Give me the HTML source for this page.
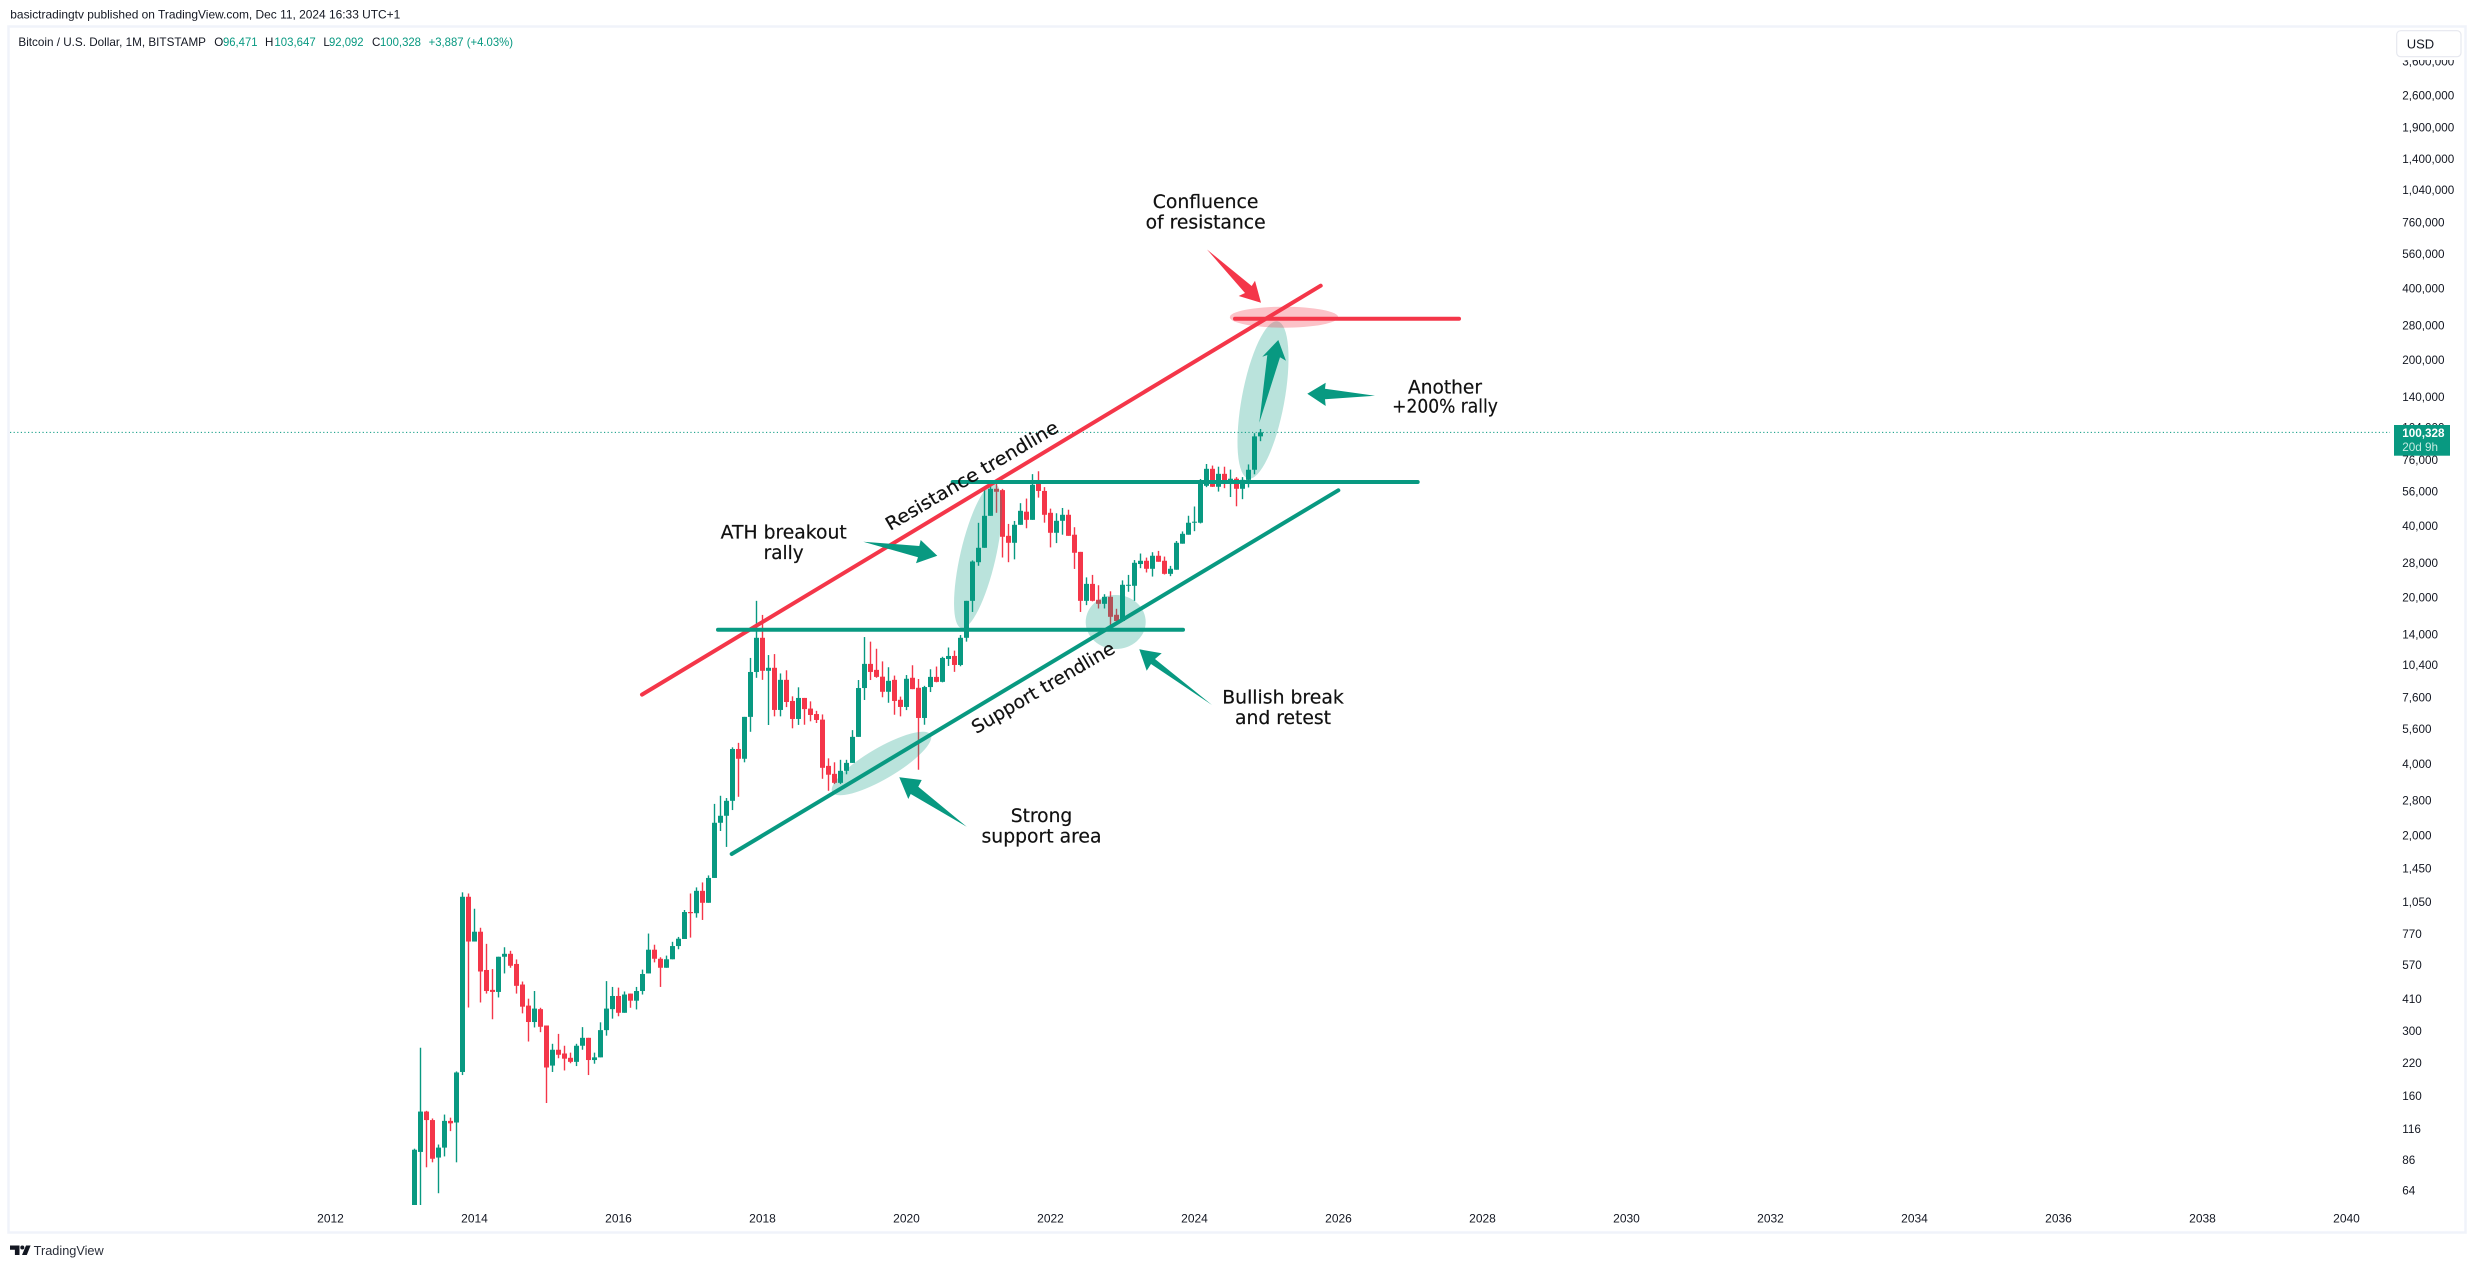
<!DOCTYPE html>
<html lang="en">
<head>
<meta charset="utf-8">
<title>Bitcoin / U.S. Dollar, 1M, BITSTAMP</title>
<style>
html,body{margin:0;padding:0;background:#fff;width:2475px;height:1268px;overflow:hidden}
svg{display:block}
text{font-family:"Liberation Sans",sans-serif;fill:#131722}
.anno{font-family:"DejaVu Sans",sans-serif;font-size:18.4px;fill:#111;stroke:#111;stroke-width:0.2;text-anchor:middle}
.leg{font-size:11.6px}
.val{fill:#089981}
</style>
</head>
<body>
<svg id="chart" xmlns="http://www.w3.org/2000/svg" width="2475" height="1268" viewBox="0 0 2475 1268">
  <defs>
    <clipPath id="paneClip"><rect x="10" y="28" width="2380" height="1177"/></clipPath>
    <clipPath id="axisClip"><rect x="2392" y="60" width="72" height="1168"/></clipPath>
  </defs>
  <rect x="0" y="0" width="2475" height="1268" fill="#fff"/>
  <text x="10.3" y="18.6" font-size="12" textLength="390" lengthAdjust="spacingAndGlyphs">basictradingtv published on TradingView.com, Dec 11, 2024 16:33 UTC+1</text>
  <rect x="8.5" y="26.5" width="2457" height="1206" fill="none" stroke="#f0f3fa" stroke-width="2.5"/>

  <g id="pane" clip-path="url(#paneClip)">
    <g id="candles"></g>
    <line id="lastPriceLine" x1="10" x2="2394" stroke="#089981" stroke-width="1" stroke-dasharray="1.2 2.4"/>
  </g>

  <g>
    <ellipse cx="881.5" cy="763.5" rx="57" ry="15.5" transform="rotate(-30.4 881.5 763.5)" fill="#089981" fill-opacity="0.28"/>
    <ellipse cx="1115.7" cy="622" rx="30" ry="27" fill="#089981" fill-opacity="0.28"/>
    <ellipse cx="978" cy="556" rx="17.7" ry="74" transform="rotate(13 978 556)" fill="#089981" fill-opacity="0.28"/>
    <ellipse cx="1263" cy="400" rx="21.3" ry="80" transform="rotate(10.5 1263 400)" fill="#089981" fill-opacity="0.28"/>
    <ellipse cx="1284" cy="317.2" rx="54.2" ry="10.5" fill="#f43649" fill-opacity="0.3"/>

    <line x1="642" y1="694.6" x2="1320.7" y2="285.7" stroke="#f43649" stroke-width="4" stroke-linecap="round"/>
    <line x1="718" y1="629.7" x2="1183" y2="629.7" stroke="#089981" stroke-width="4" stroke-linecap="round"/>
    <line x1="952.7" y1="482" x2="1417.7" y2="482" stroke="#089981" stroke-width="4" stroke-linecap="round"/>
    <line x1="1235" y1="318.7" x2="1459" y2="318.7" stroke="#f43649" stroke-width="4" stroke-linecap="round"/>
    <line x1="731.7" y1="854" x2="1338.3" y2="490.3" stroke="#089981" stroke-width="4" stroke-linecap="round"/>

    <polygon points="966.7,826.7 918.3,786.7 921.7,780 899.3,777.3 908.3,799 910.7,794" fill="#089981"/>
    <polygon points="1212,705 1155,659 1161.7,653.3 1139.3,649.3 1146.7,670.7 1151,664" fill="#089981"/>
    <polygon points="863.3,541.7 919.3,546 920.7,540 937.3,555.7 916,563.3 918,557.3" fill="#089981"/>
    <polygon points="1259.3,422.7 1267.3,355 1262.3,356.7 1278.3,340 1286,360.7 1280,357.3" fill="#089981"/>
    <polygon points="1375,395.7 1325,388.7 1325.7,382.7 1307.3,393.7 1325.7,406 1325,399.3" fill="#089981"/>
    <polygon points="1207,249.5 1245,293 1238.7,296 1261,302.7 1255,280.7 1251.7,286" fill="#f43649"/>

    <text class="anno" x="1205.6" y="208" textLength="105.7" lengthAdjust="spacingAndGlyphs">Confluence</text>
    <text class="anno" x="1205.6" y="228.5" textLength="120" lengthAdjust="spacingAndGlyphs">of resistance</text>
    <text class="anno" x="1445" y="393.3" textLength="74" lengthAdjust="spacingAndGlyphs">Another</text>
    <text class="anno" x="1445" y="412.7" textLength="105.7" lengthAdjust="spacingAndGlyphs">+200% rally</text>
    <text class="anno" x="783.7" y="538.3" textLength="126" lengthAdjust="spacingAndGlyphs">ATH breakout</text>
    <text class="anno" x="783.7" y="559" textLength="40" lengthAdjust="spacingAndGlyphs">rally</text>
    <text class="anno" x="1283" y="703.5" textLength="121.5" lengthAdjust="spacingAndGlyphs">Bullish break</text>
    <text class="anno" x="1283" y="724" textLength="96" lengthAdjust="spacingAndGlyphs">and retest</text>
    <text class="anno" x="1041.5" y="822" textLength="61.5" lengthAdjust="spacingAndGlyphs">Strong</text>
    <text class="anno" x="1041.5" y="842.5" textLength="120" lengthAdjust="spacingAndGlyphs">support area</text>
    <text class="anno" transform="translate(975 481) rotate(-30.5)" textLength="197" lengthAdjust="spacingAndGlyphs">Resistance trendline</text>
    <text class="anno" transform="translate(1046.3 693) rotate(-30.4)" textLength="162.4" lengthAdjust="spacingAndGlyphs">Support trendline</text>
  </g>

  <g>
    <text class="leg" x="18.4" y="46.2" textLength="187.6" lengthAdjust="spacingAndGlyphs">Bitcoin / U.S. Dollar, 1M, BITSTAMP</text>
    <text class="leg" x="214.3" y="46.2">O</text>
    <text class="leg val" x="223" y="46.2" textLength="34.5" lengthAdjust="spacingAndGlyphs">96,471</text>
    <text class="leg" x="265" y="46.2">H</text>
    <text class="leg val" x="274.4" y="46.2" textLength="41.3" lengthAdjust="spacingAndGlyphs">103,647</text>
    <text class="leg" x="323.4" y="46.2">L</text>
    <text class="leg val" x="329" y="46.2" textLength="34.6" lengthAdjust="spacingAndGlyphs">92,092</text>
    <text class="leg" x="372" y="46.2">C</text>
    <text class="leg val" x="380" y="46.2" textLength="41" lengthAdjust="spacingAndGlyphs">100,328</text>
    <text class="leg val" x="428.6" y="46.2" textLength="84.4" lengthAdjust="spacingAndGlyphs">+3,887 (+4.03%)</text>
  </g>

  <g id="priceAxis" clip-path="url(#axisClip)"></g>
  <g id="timeAxis"></g>

  <rect x="2396.7" y="30.7" width="64.3" height="26" rx="4" fill="#fff" stroke="#e6e8ef" stroke-width="1.2"/>
  <text x="2406.7" y="48.6" font-size="13">USD</text>

  <g>
    <rect id="lastPriceTag" x="2394" y="425" width="56" height="30.7" fill="#089981"/>
    <text x="2402.3" y="436.8" font-size="11.7" font-weight="bold" style="fill:#fff">100,328</text>
    <text x="2402.3" y="451" font-size="11.7" style="fill:#c4ebe1">20d 9h</text>
  </g>

  <g>
    <path d="M10 1245.5h9.5v9.5h-4.6v-5.2H10z" fill="#131722"/>
    <circle cx="22.3" cy="1247.5" r="2" fill="#131722"/>
    <path d="M26 1245.5h4.6l-3.8 9.5h-4.8z" fill="#131722"/>
    <text x="33.7" y="1255" font-size="12.6" textLength="70" lengthAdjust="spacingAndGlyphs" style="fill:#2a2e39">TradingView</text>
  </g>
</svg>

<script>
// Monthly candles, first bar = Mar 2013
const opens = [34,94,139,128,89,98,127,125,204,1114,722,794,548,452,443,623,641,581,476,388,331,375,320,217,253,244,234,225,263,284,229,235,306,375,426,362,436,407,447,530,667,611,560,608,691,740,961,950,1180,1051,1337,2282,2442,2823,4665,4243,6367,9838,13700,9950,10245,6810,9115,7430,6240,7650,6900,6544,6200,3960,3666,3360,3775,4077,5246,8420,10640,10040,9400,8120,9115,7514,7010,9300,8440,6300,8500,9380,8940,11160,11490,10530,13700,19600,28500,32770,44670,58050,57300,36800,34400,40950,46500,42970,60900,56850,46000,37900,42570,45120,37200,31500,19600,23100,19800,19040,20380,17120,16120,22680,22680,28000,28900,26740,30340,28900,25460,26500,34100,37200,41780,41780,59760,70450,59200,67100,60900,64000,58050,63300,69800,96471];
const highs = [97,258,140,130,101,135,131,205,1163,1150,992,825,706,553,623,683,660,607,490,415,447,380,320,268,295,263,246,268,315,284,246,330,492,465,462,445,436,465,550,780,700,620,630,720,755,980,1150,1220,1280,1370,2740,2964,2900,4740,4950,6367,11273,19600,17100,11590,11700,9700,10000,7770,8480,7650,7400,6750,6520,4260,4100,4200,4200,5600,9100,13800,13200,12320,10900,10300,9500,7750,9550,10500,9190,8600,10100,10370,11400,12470,12100,14070,19600,29000,41740,58300,62700,63500,58000,41300,42500,50500,52800,66900,68800,59000,47900,45800,48200,47400,40000,31500,24600,25200,22800,20900,21500,18150,23900,25200,29100,31000,29800,31400,31800,30100,27500,35000,38400,44700,48900,63800,73800,72700,71900,71900,69900,65000,65000,73500,99500,103647];
const lows = [33,50,81,85,63,90,115,85,198,381,722,400,436,340,420,530,560,436,360,274,314,300,151,204,233,207,222,216,253,198,221,235,290,342,350,362,380,374,432,530,590,465,560,608,670,745,750,910,890,1051,1337,2107,1806,2581,2935,4100,5510,9296,9115,5886,6400,6400,7000,5700,5890,5900,6100,6000,3495,3112,3320,3320,3650,4077,5246,7500,9100,9300,7700,7300,6500,6400,6800,8330,3815,5900,8100,8900,8900,10430,9850,10400,13200,17600,27530,32770,44670,46000,29830,28500,29300,40950,39600,42970,53300,41800,32900,34300,37200,36800,26700,17600,18800,19500,18200,18200,15500,16000,16120,21400,19600,26900,25800,24800,28620,25300,24900,26500,34100,37200,38500,41500,59000,59100,56500,58400,53600,49000,52500,58800,66800,92092];
const closes = [96,139,128,88,98,127,124,203,1114,722,794,540,447,443,623,641,571,470,384,331,377,316,213,253,241,232,225,263,284,229,235,306,377,426,362,432,407,447,527,667,611,560,608,691,742,961,950,1180,1051,1337,2282,2442,2823,4665,4243,6367,9838,13700,9950,10245,6810,9115,7355,6240,7650,6865,6486,6180,3887,3635,3360,3775,4077,5246,8420,10640,9840,9380,8120,9030,7430,7010,9210,8330,6300,8500,9380,8938,11270,11490,10530,13700,19600,28690,32770,44670,58050,56400,36460,34400,40950,46900,42970,60350,56850,45120,37900,42570,45120,36800,31230,19600,23100,19600,19040,20380,16790,16120,22900,22900,28340,28900,26740,30340,28620,25460,26740,34400,37530,41780,42200,61500,70450,59200,67100,61500,64000,58050,63300,69800,96471,100328];

const priceTicks = [3600000,2600000,1900000,1400000,1040000,760000,560000,400000,280000,200000,140000,104000,76000,56000,40000,28000,20000,14000,10400,7600,5600,4000,2800,2000,1450,1050,770,570,410,300,220,160,116,86,64];
const yearTicks = [2012,2014,2016,2018,2020,2022,2024,2026,2028,2030,2032,2034,2036,2038,2040];
const lastPrice = 100328;

const NS = 'http://www.w3.org/2000/svg';
const UP = '#089981';
const DOWN = '#f43649';
const xOfBar = i => 414.5 + 6 * i;
const xOfYear = yr => xOfBar((yr - 2013) * 12 - 2);
const yOfPrice = p => 492.5 - 103.2 * Math.log(p / 56000);

function mk(tag, attrs, parent) {
  const el = document.createElementNS(NS, tag);
  for (const k in attrs) el.setAttribute(k, attrs[k]);
  parent.appendChild(el);
  return el;
}

const candleGroup = document.getElementById('candles');
closes.forEach(function (c, i) {
  const o = opens[i];
  const color = c >= o ? UP : DOWN;
  const cx = xOfBar(i);
  const top = yOfPrice(Math.max(o, c));
  const bot = yOfPrice(Math.min(o, c));
  const wick = mk('rect', {x: cx - 0.7, y: yOfPrice(highs[i]), width: 1.4, height: yOfPrice(lows[i]) - yOfPrice(highs[i]), fill: color}, candleGroup);
  
  
  const body = mk('rect', {x: cx - 2.5, y: top, width: 5, height: Math.max(bot - top, 1), fill: color}, candleGroup);
  
  
});

const priceAxis = document.getElementById('priceAxis');
priceTicks.forEach(function (p) {
  const t = mk('text', {x: 2402.3, y: yOfPrice(p) + 2.9, 'font-size': 11.7}, priceAxis);
  t.textContent = p.toLocaleString('en-US');
  
  
});

const timeAxis = document.getElementById('timeAxis');
yearTicks.forEach(function (yr) {
  const t = mk('text', {x: xOfYear(yr), y: 1222.3, 'font-size': 12, 'text-anchor': 'middle'}, timeAxis);
  t.textContent = String(yr);
  
  
});

const lp = document.getElementById('lastPriceLine');
lp.setAttribute('y1', yOfPrice(lastPrice));
lp.setAttribute('y2', yOfPrice(lastPrice));
</script>
</body>
</html>
